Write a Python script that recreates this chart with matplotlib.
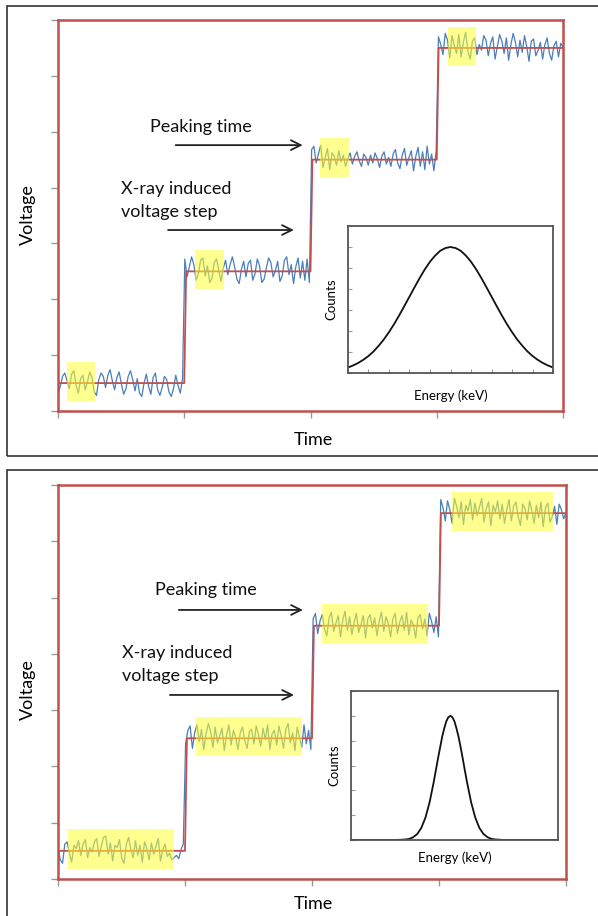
import numpy as np
import matplotlib
matplotlib.use("Agg")
import matplotlib.pyplot as plt
from matplotlib.patches import Rectangle

plt.rcParams['font.family'] = ['Lato', 'DejaVu Sans']

# Niveis de tensao e instantes dos degraus
levels = [0.5, 2.5, 4.5, 6.5]
step_times = [1.0, 2.0, 3.0]

# Ruido (um bloco por patamar)
noise_top = [
    -0.20, -0.06, 0.12, 0.18, 0.04, -0.10, 0.16, 0.22, -0.04, -0.18, 0.08, 0.14, -0.12, 0.02, 0.20, 0.10, -0.16, -0.22, 0.06, 0.18,
    0.12, -0.08, 0.14, 0.24, 0.04, -0.12, 0.10, 0.20, -0.02, -0.20, -0.10, 0.12, 0.22, 0.06, -0.14, 0.08, -0.18, -0.24, 0.00, 0.16,
    -0.06, -0.20, 0.10, 0.18, -0.12, -0.22, -0.08, 0.12, 0.06, -0.16, -0.24, -0.10, 0.14, -0.04, -0.18, 0.08,
    0.22, -0.10, 0.08, 0.26, 0.12, -0.16, -0.04, 0.20, 0.24, -0.08, 0.10, -0.20, -0.12, 0.16, 0.22, 0.02, -0.18, 0.06, 0.20, -0.06,
    0.12, 0.26, 0.08, -0.14, -0.22, 0.04, 0.18, -0.10, 0.14, 0.20, -0.16, -0.04, 0.22, 0.10, -0.20, -0.14, 0.06, 0.24, 0.16, -0.10,
    0.02, 0.18, -0.18, -0.08, 0.20, 0.26, -0.06, 0.12, -0.22, 0.08, 0.24, -0.12, 0.18, -0.16, 0.22, -0.20,
    0.18, 0.24, -0.06, 0.10, 0.26, -0.14, 0.04, 0.20, -0.18, 0.12, 0.06, -0.10, 0.16, -0.04, 0.08, -0.12, 0.02, 0.12, -0.08, 0.06,
    0.14, -0.02, -0.12, 0.10, 0.04, -0.10, 0.08, -0.06, 0.12, 0.02, -0.14, 0.06, 0.14, -0.08, 0.04, -0.12, 0.10, 0.18, -0.06, -0.16,
    0.08, 0.20, -0.10, 0.04, 0.16, -0.20, 0.06, 0.22, -0.12, 0.14, -0.18, 0.24, -0.08, 0.10, -0.20, 0.16,
    0.20, 0.06, -0.12, 0.26, 0.14, -0.18, 0.22, 0.04, -0.10, 0.24, -0.16, 0.10, 0.28, -0.06, -0.20, 0.12, 0.18, -0.12, 0.06, -0.04,
    0.22, 0.14, -0.14, 0.08, 0.20, -0.20, 0.02, 0.24, 0.12, -0.10, 0.18, -0.22, 0.06, 0.26, 0.10, -0.16, 0.14, -0.08, 0.22, 0.02,
    -0.24, 0.12, 0.16, -0.14, -0.04, 0.10, -0.20, 0.06, 0.18, -0.10, -0.22, 0.04, 0.12, -0.16, 0.08, 0.02,
]
noise_bot = [
    0.08, -0.16, -0.22, 0.12, 0.16, -0.04, -0.20, 0.10, 0.04, 0.18, -0.08, 0.12, 0.20, -0.12, 0.06, -0.02, 0.16, 0.22, -0.10, 0.08,
    0.24, 0.26, -0.06, 0.14, -0.18, 0.10, 0.06, 0.20, -0.14, -0.22, 0.12, 0.24, 0.02, -0.12, 0.18, -0.08, 0.10, -0.20, 0.16, 0.04,
    -0.16, 0.14, -0.06, 0.08, 0.22, -0.18, 0.02, 0.12, -0.10, -0.04, -0.16, -0.12, -0.08, -0.14, 0.02, 0.12,
    -0.10, 0.14, 0.22, -0.18, 0.10, 0.24, -0.06, 0.16, -0.20, 0.08, 0.26, 0.12, -0.16, 0.20, -0.08, 0.04, 0.18, -0.22, 0.06, 0.24,
    -0.12, 0.14, 0.02, -0.20, 0.10, 0.20, -0.04, -0.18, 0.12, 0.16, -0.10, 0.22, 0.06, -0.14, 0.18, -0.02, 0.24, -0.20, 0.08, 0.14,
    -0.12, 0.22, 0.04, -0.18, 0.16, 0.26, -0.08, 0.10, -0.22, 0.20, 0.02, -0.16, 0.24, -0.10, 0.14, -0.20,
    0.12, 0.22, -0.14, 0.08, 0.20, -0.06, -0.18, 0.14, 0.24, -0.10, 0.04, 0.18, -0.20, 0.10, 0.26, -0.08, 0.16, -0.16, 0.06, 0.22,
    -0.12, 0.02, 0.18, -0.22, 0.12, 0.20, -0.04, 0.14, -0.18, 0.08, 0.24, -0.10, 0.16, 0.04, -0.20, 0.12, 0.22, -0.14, 0.06, 0.18,
    -0.08, 0.24, -0.16, 0.10, 0.02, -0.22, 0.14, 0.20, -0.06, 0.12, -0.18, 0.22, 0.08, -0.12, 0.16, -0.20,
    0.24, 0.10, -0.14, 0.22, 0.06, -0.18, 0.26, 0.12, -0.08, 0.20, -0.20, 0.14, 0.04, 0.24, -0.12, 0.18, -0.04, 0.10, 0.26, -0.16,
    0.08, 0.20, -0.22, 0.14, 0.02, 0.22, -0.10, 0.16, -0.18, 0.06, 0.24, -0.14, 0.12, 0.20, -0.06, -0.22, 0.16, 0.08, -0.12, 0.22,
    0.04, -0.18, 0.14, -0.08, 0.20, -0.24, 0.10, 0.18, -0.16, -0.06, 0.12, -0.20, 0.16, 0.06, -0.10, 0.02,
]

# Janelas destacadas em amarelo (inicio, fim) em cada patamar
hl_top = [(0.07, 0.29), (1.085, 1.315), (2.075, 2.305), (3.09, 3.31)]
hl_bot = [(0.08, 0.91), (1.09, 1.92), (2.08, 2.91), (3.10, 3.90)]

# Espectros (energia x contagens)
energy_top = [0.0, 0.25, 0.5, 0.75, 1.0, 1.25, 1.5, 1.75, 2.0, 2.25, 2.5, 2.75, 3.0, 3.25, 3.5, 3.75, 4.0, 4.25, 4.5, 4.75,
              5.0, 5.25, 5.5, 5.75, 6.0, 6.25, 6.5, 6.75, 7.0, 7.25, 7.5, 7.75, 8.0, 8.25, 8.5, 8.75, 9.0, 9.25, 9.5, 9.75, 10.0]
counts_top = [0.26, 0.36, 0.48, 0.63, 0.81, 1.03, 1.30, 1.60, 1.95, 2.33, 2.75, 3.19, 3.64, 4.09, 4.53, 4.94, 5.30, 5.59, 5.82, 5.95,
              6.00, 5.95, 5.82, 5.59, 5.30, 4.94, 4.53, 4.09, 3.64, 3.19, 2.75, 2.33, 1.95, 1.60, 1.30, 1.03, 0.81, 0.63, 0.48, 0.36, 0.26]
energy_bot = [0.0, 2.0, 2.4, 2.6, 2.8, 3.0, 3.2, 3.4, 3.6, 3.8, 4.0, 4.2, 4.4, 4.5, 4.6, 4.7, 4.8, 4.9, 5.0,
              5.1, 5.2, 5.3, 5.4, 5.5, 5.6, 5.8, 6.0, 6.2, 6.4, 6.6, 6.8, 7.0, 7.2, 7.4, 7.6, 8.0, 10.0]
counts_bot = [0.0, 0.0, 0.01, 0.02, 0.04, 0.11, 0.24, 0.49, 0.91, 1.53, 2.35, 3.27, 4.14, 4.48, 4.77, 4.94, 5.00, 4.94, 4.77,
              4.48, 4.14, 3.72, 3.27, 2.80, 2.35, 1.53, 0.91, 0.49, 0.24, 0.11, 0.04, 0.02, 0.01, 0.0, 0.0, 0.0, 0.0]

W, H = 598, 916
RED = '#c0504d'
BLUE = '#4a7ebb'


def fr(x0, y0, x1, y1):
    # converte caixa em pixels para fracao da figura
    return [x0 / W, 1 - y1 / H, (x1 - x0) / W, (y1 - y0) / H]


def painel(fig, box, noise, highlights, inset_box, energy, counts, ymax_inset, inset_xticks,
           txt_peak, arr_peak, txt_xray, arr_xray):
    ax = fig.add_axes(fr(*box))
    t = np.linspace(0, 4, len(noise))
    idx = np.searchsorted(step_times, t, side='right')
    lv = np.array(levels)[idx]
    ax.plot(t, lv + np.array(noise), color=BLUE, lw=0.9, zorder=2)
    # linha de degrau ideal
    xs = [0]
    ys = [levels[0]]
    for i, st in enumerate(step_times):
        xs += [st, st + 0.015]
        ys += [levels[i], levels[i + 1]]
    xs.append(4)
    ys.append(levels[-1])
    ax.plot(xs, ys, color=RED, lw=1.3, zorder=3)
    for (a, b), lev in zip(highlights, levels):
        ax.add_patch(Rectangle((a, lev - 0.32), b - a, 0.7, color='#ffff33', alpha=0.55, lw=0, zorder=4))
    ax.set_xlim(0, 4)
    ax.set_ylim(0, 7)
    ax.set_xticks(range(5))
    ax.set_yticks(range(8))
    ax.set_xticklabels([])
    ax.set_yticklabels([])
    ax.tick_params(direction='out', length=5, color='#999999', width=1)
    for s in ax.spines.values():
        s.set_color(RED)
        s.set_linewidth(1.8)
    ax.text(txt_peak[0], txt_peak[1], 'Peaking time', fontsize=13, va='center', color='#111111')
    ax.text(txt_xray[0], txt_xray[1], 'X-ray induced\nvoltage step', fontsize=13, va='center',
            linespacing=1.55, color='#111111')
    for (x0, x1, y) in (arr_peak, arr_xray):
        ax.annotate('', xy=(x1, y), xytext=(x0, y),
                    arrowprops=dict(arrowstyle='->,head_length=0.7,head_width=0.35', color='#222222', lw=1.3))

    ins = fig.add_axes(fr(*inset_box))
    ins.plot(energy, counts, color='#111111', lw=1.3)
    ins.set_xlim(0, 10)
    ins.set_ylim(0, ymax_inset)
    ins.set_xticks(inset_xticks)
    ins.set_yticks(range(ymax_inset + 1))
    ins.set_xticklabels([])
    ins.set_yticklabels([])
    ins.tick_params(direction='in', length=3, color='#999999', width=0.8)
    for s in ins.spines.values():
        s.set_color('#555555')
        s.set_linewidth(1.3)
    ins.set_xlabel('Energy (keV)', fontsize=9.5, labelpad=8)
    ins.set_ylabel('Counts', fontsize=9.5, labelpad=4)
    return ax


fig = plt.figure(figsize=(W / 100, H / 100), dpi=100)

# molduras externas
fig.add_artist(Rectangle((7 / W, 1 - 456 / H), 1.0, 450 / H, transform=fig.transFigure,
                         fill=False, ec='#333333', lw=1.2))
fig.add_artist(Rectangle((7 / W, -0.01), 1.0, 1 - 470 / H + 0.01, transform=fig.transFigure,
                         fill=False, ec='#333333', lw=1.2))

painel(fig, (58, 20, 563, 411), noise_top, hl_top, (348, 226, 553, 373),
       energy_top, counts_top, 7, range(11),
       (0.73, 5.08), (0.91, 1.96, 4.76), (0.50, 3.77), (0.85, 1.89, 3.24))
painel(fig, (58, 485, 566, 879), noise_bot, hl_bot, (351, 691, 558, 840),
       energy_bot, counts_bot, 6, [],
       (0.76, 5.13), (0.93, 1.95, 4.78), (0.50, 3.81), (0.86, 1.88, 3.27))

fig.text(28 / W, 1 - 215 / H, 'Voltage', rotation=90, fontsize=13, ha='center', va='center')
fig.text(28 / W, 1 - 690 / H, 'Voltage', rotation=90, fontsize=13, ha='center', va='center')
fig.text(313 / W, 1 - 440 / H, 'Time', fontsize=13, ha='center', va='center')
fig.text(313 / W, 1 - 904 / H, 'Time', fontsize=13, ha='center', va='center')

fig.savefig('out.png', dpi=100)
